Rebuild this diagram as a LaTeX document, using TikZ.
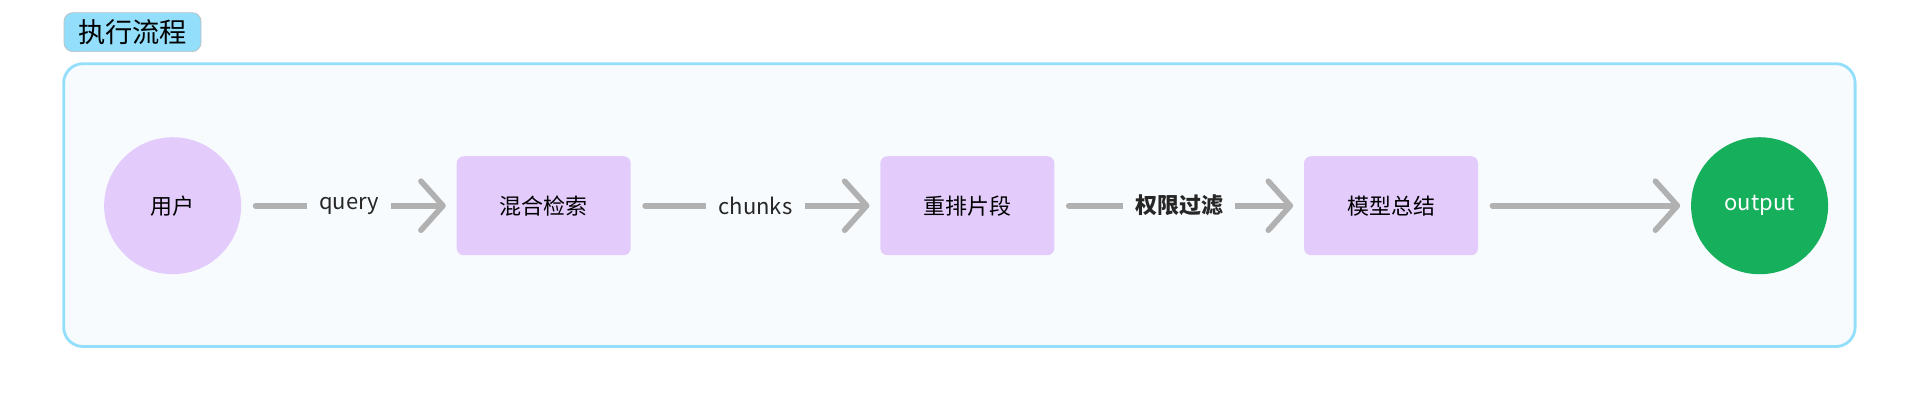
\documentclass[tikz,border=0pt]{standalone}
\usepackage{fontspec}
\setmainfont{Noto Sans CJK SC}
\usetikzlibrary{arrows.meta}
\definecolor{titlebg}{HTML}{93DEFB}
\definecolor{framebd}{HTML}{93DEFB}
\definecolor{framebg}{HTML}{F7FBFD}
\definecolor{nodebg}{HTML}{E3CCFC}
\definecolor{outbg}{HTML}{16AF5B}
\definecolor{arrowc}{HTML}{B1B1B1}
\begin{document}
\begin{tikzpicture}[x=0.02449cm, y=-0.02449cm,
  stepcirc/.style={circle, fill=nodebg, minimum size=2.74cm, inner sep=0, font=\fontsize{12.5}{14}\selectfont},
  stepbox/.style={rectangle, rounded corners=4pt, fill=nodebg, minimum width=3.48cm, minimum height=1.98cm, font=\fontsize{12.5}{14}\selectfont},
  flow/.style={draw=arrowc, line width=3.2pt, line cap=round, -{Straight Barb[length=4.4mm, width=9.8mm, round]}, shorten <=8pt, shorten >=6pt},
  lab/.style={fill=framebg, inner sep=7pt, text=black!85, font=\fontsize{12.5}{14}\selectfont}]
\useasboundingbox (0,0) rectangle (1568,335.6);
% Frame
\node[draw=black!25, fill=titlebg, rounded corners=5pt, inner sep=0, minimum width=2.74cm, minimum height=0.78cm, anchor=north west, font=\fontsize{15.5}{17}\selectfont] (title) at (52,10) {执行流程};
\draw[draw=framebd, fill=framebg, line width=1.6pt, rounded corners=11pt] (52,52) rectangle (1515,283);
% Nodes
\node[stepcirc] (user) at (141,168) {用户};
\node[stepbox] (search) at (444,168) {混合检索};
\node[stepbox] (rerank) at (790,168) {重排片段};
\node[stepbox] (summary) at (1136,168) {模型总结};
\node[stepcirc, fill=outbg, text=white] (out) at (1437,168) {output};
% Arrows
\draw[flow] (user) -- node[lab] {query} (search);
\draw[flow] (search) -- node[lab] {chunks} (rerank);
\draw[flow] (rerank) -- node[lab, font=\fontsize{12.5}{14}\selectfont\bfseries] {权限过滤} (summary);
\draw[flow] (summary) -- (out);
\end{tikzpicture}
\end{document}
